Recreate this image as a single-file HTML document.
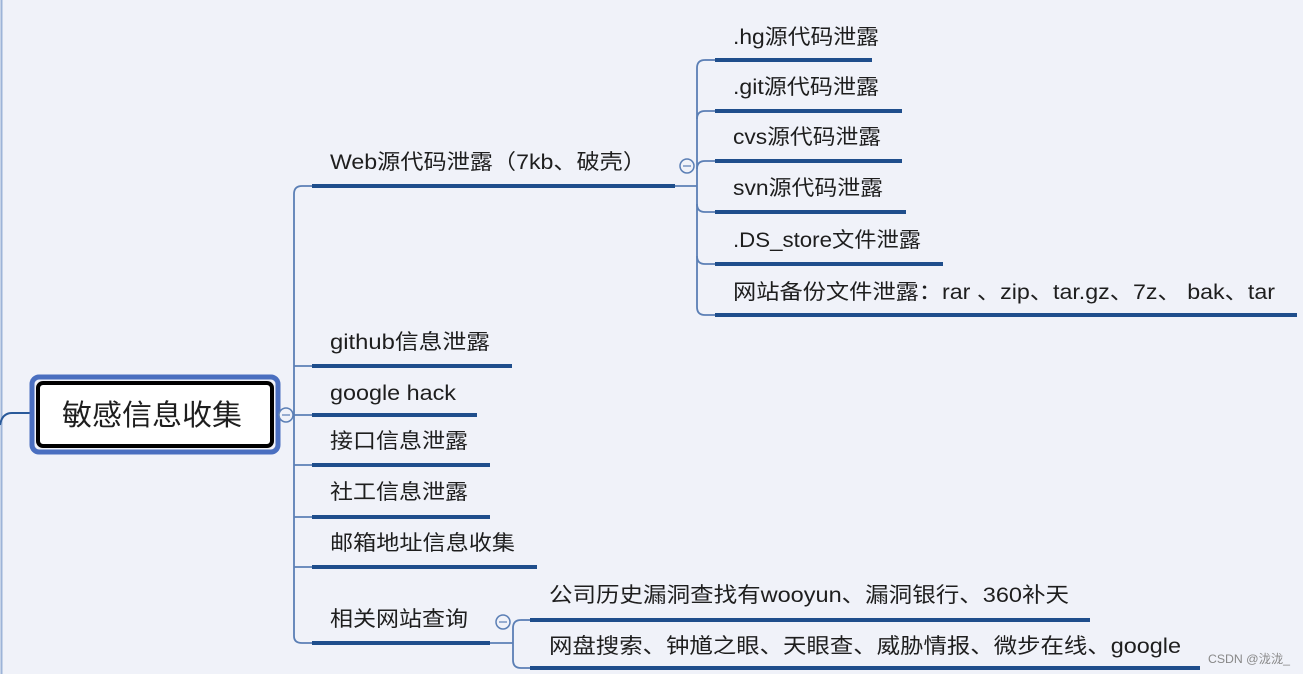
<!DOCTYPE html>
<html><head><meta charset="utf-8"><style>
html,body{margin:0;padding:0;background:#f0f2f9;}
svg{display:block}
text{font-family:"Liberation Sans","Noto Sans CJK SC",sans-serif;fill:#1e1e1e;font-size:21px;}
</style></head><body>
<svg width="1303" height="674" viewBox="0 0 1303 674" xmlns="http://www.w3.org/2000/svg">
<rect width="1303" height="674" fill="#f0f2f9"/>
<line x1="1.5" y1="0" x2="1.5" y2="674" stroke="#9db4d8" stroke-width="2"/>
<path d="M0 425 Q2 413 12 413 L32 413" fill="none" stroke="#2a5a9a" stroke-width="2"/>
<!-- root -->
<rect x="32" y="377" width="246" height="75" rx="7" fill="none" stroke="#4a6fc0" stroke-width="5"/>
<rect x="38" y="383" width="234" height="63" rx="5" fill="#fff" stroke="#000" stroke-width="4"/>
<text x="62" y="425" textLength="180" lengthAdjust="spacingAndGlyphs" style="font-size:29px">敏感信息收集</text>
<line x1="278" y1="414" x2="287" y2="414" stroke="#5b7fb5" stroke-width="1.5"/>
<circle cx="286" cy="415" r="7" fill="#f0f2f9" stroke="#5b7fb5" stroke-width="1.5"/>
<line x1="282" y1="415" x2="290" y2="415" stroke="#5b7fb5" stroke-width="1.2"/>
<!-- trunk -->
<g fill="none" stroke="#5b7fb5" stroke-width="1.8">
<path d="M294 194 Q294 186 302 186 L312 186"/>
<line x1="294" y1="194" x2="294" y2="636"/>
<path d="M294 636 Q294 643 302 643 L312 643"/>
<line x1="294" y1="366" x2="312" y2="366"/>
<line x1="294" y1="415" x2="312" y2="415"/>
<line x1="294" y1="465" x2="312" y2="465"/>
<line x1="294" y1="517" x2="312" y2="517"/>
<line x1="294" y1="567" x2="312" y2="567"/>
<line x1="675" y1="186" x2="697" y2="186"/>
<path d="M705 60 Q697 60 697 68 L697 307 Q697 315 705 315 L715 315"/>
<path d="M697 119 Q697 111 705 111 L715 111"/>
<path d="M697 169 Q697 161 705 161 L715 161"/>
<path d="M697 204 Q697 212 705 212 L715 212"/>
<path d="M697 256 Q697 264 705 264 L715 264"/>
<line x1="705" y1="60" x2="715" y2="60"/>
<line x1="490" y1="643" x2="513" y2="643"/>
<path d="M521 620 Q513 620 513 628 L513 660 Q513 668 521 668 L530 668"/>
<line x1="521" y1="620" x2="530" y2="620"/>
</g>
<g fill="#f0f2f9" stroke="#5b7fb5" stroke-width="1.5">
<circle cx="687" cy="166" r="7"/>
<circle cx="503" cy="622" r="7"/>
</g>
<g stroke="#5b7fb5" stroke-width="1.2">
<line x1="683" y1="166" x2="691" y2="166"/>
<line x1="499" y1="622" x2="507" y2="622"/>
</g>
<!-- underlines -->
<g stroke="#1f4e8c" stroke-width="4">
<line x1="312" y1="186" x2="675" y2="186"/>
<line x1="312" y1="366" x2="512" y2="366"/>
<line x1="312" y1="415" x2="477" y2="415"/>
<line x1="312" y1="465" x2="490" y2="465"/>
<line x1="312" y1="517" x2="490" y2="517"/>
<line x1="312" y1="567" x2="537" y2="567"/>
<line x1="312" y1="643" x2="490" y2="643"/>
<line x1="715" y1="60" x2="872" y2="60"/>
<line x1="715" y1="111" x2="902" y2="111"/>
<line x1="715" y1="161" x2="902" y2="161"/>
<line x1="715" y1="212" x2="906" y2="212"/>
<line x1="715" y1="264" x2="943" y2="264"/>
<line x1="715" y1="315" x2="1297" y2="315"/>
<line x1="530" y1="620" x2="1090" y2="620"/>
<line x1="530" y1="668" x2="1200" y2="668"/>
</g>
<!-- labels -->
<text x="330" y="169" textLength="316" lengthAdjust="spacingAndGlyphs">Web源代码泄露（7kb、破壳）</text>
<text x="330" y="349" textLength="160" lengthAdjust="spacingAndGlyphs">github信息泄露</text>
<text x="330" y="400" textLength="126" lengthAdjust="spacingAndGlyphs">google hack</text>
<text x="330" y="448" textLength="138" lengthAdjust="spacingAndGlyphs">接口信息泄露</text>
<text x="330" y="499" textLength="138" lengthAdjust="spacingAndGlyphs">社工信息泄露</text>
<text x="330" y="550" textLength="185" lengthAdjust="spacingAndGlyphs">邮箱地址信息收集</text>
<text x="330" y="626" textLength="138" lengthAdjust="spacingAndGlyphs">相关网站查询</text>
<text x="733" y="44" textLength="146" lengthAdjust="spacingAndGlyphs">.hg源代码泄露</text>
<text x="733" y="94" textLength="146" lengthAdjust="spacingAndGlyphs">.git源代码泄露</text>
<text x="733" y="144" textLength="148" lengthAdjust="spacingAndGlyphs">cvs源代码泄露</text>
<text x="733" y="195" textLength="150" lengthAdjust="spacingAndGlyphs">svn源代码泄露</text>
<text x="733" y="247" textLength="188" lengthAdjust="spacingAndGlyphs">.DS_store文件泄露</text>
<text x="733" y="299" textLength="542" lengthAdjust="spacingAndGlyphs">网站备份文件泄露：rar 、zip、tar.gz、7z、 bak、tar</text>
<text x="549" y="602" textLength="520" lengthAdjust="spacingAndGlyphs">公司历史漏洞查找有wooyun、漏洞银行、360补天</text>
<text x="549" y="653" textLength="632" lengthAdjust="spacingAndGlyphs">网盘搜索、钟馗之眼、天眼查、威胁情报、微步在线、google</text>
<text x="1208" y="663" textLength="82" lengthAdjust="spacingAndGlyphs" style="font-size:12px;fill:#888">CSDN @泷泷_</text>
</svg>
</body></html>
